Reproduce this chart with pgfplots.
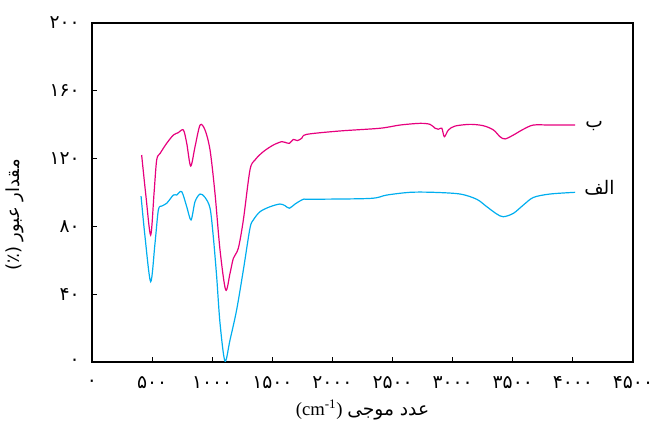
\documentclass[border=0pt]{standalone}
\usepackage{fontspec}
\setmainfont{Liberation Serif}
\newfontfamily\arabicfont[Script=Arabic]{DejaVu Sans}
\TeXXeTstate=1
\usepackage{pgfplots}
\pgfplotsset{compat=1.18}
\definecolor{mag}{RGB}{230,0,126}
\definecolor{cya}{RGB}{0,174,239}
\begin{document}
\begin{tikzpicture}
\path[use as bounding box] (-69pt,-48.75pt) rectangle (423.75pt,271.5pt);
\begin{axis}[
  scale only axis, width=405.75pt, height=254.25pt,
  xmin=0, xmax=4500, ymin=0, ymax=200,
  axis line style={line width=1.5pt},
  tick style={line width=0.8pt, black},
  tick align=inside, major tick length=4pt,
  xtick pos=bottom, ytick pos=left,
  xtick={0,500,...,4500},
  xticklabels={۰,۵۰۰,۱۰۰۰,۱۵۰۰,۲۰۰۰,۲۵۰۰,۳۰۰۰,۳۵۰۰,۴۰۰۰,۴۵۰۰},
  ytick={0,40,...,200},
  yticklabels={۰,۴۰,۸۰,۱۲۰,۱۶۰,۲۰۰},
  ticklabel style={font=\arabicfont\fontsize{14}{16}\selectfont, inner sep=0pt},
  xticklabel style={anchor=center, yshift=-15.75pt},
  yticklabel style={anchor=east, xshift=-9pt},
  xlabel={(cm\textsuperscript{-1}) {\arabicfont\beginR عدد موجی\endR}},
  xlabel style={at={(axis description cs:0.5,-0.1416)}, anchor=center, font=\fontsize{14}{16}\selectfont},
  ylabel={\arabicfont\beginR مقدار عبور \beginL(٪)\endL\endR},
  ylabel style={at={(axis description cs:-0.142,0.434)}, anchor=center, font=\fontsize{13.5}{15}\selectfont},
  every axis plot/.append style={line width=0.9pt, smooth, tension=0.5},
]
\addplot[mag] coordinates {
(413,122.1)(450,97)(488,74.9)(516,99.5)(538,119.2)(566,123)(621,129)(677,133.9)
(718,135.3)(760,136.9)(788,129)(821,115.6)(857,127)(899,139.8)(940,136.9)(982,125)
(1023,99.5)(1065,66)(1112,42.5)(1148,52.3)(1176,61.2)(1217,67.1)(1259,83.8)(1314,113.3)
(1356,119.2)(1425,124.1)(1508,128)(1578,130)(1606,129.6)(1642,129)(1675,131.3)(1708,130.6)
(1745,132)(1786,134.3)(2063,136.3)(2396,137.9)(2562,139.8)(2729,140.8)(2812,140.2)
(2854,137.9)(2881,137.3)(2910,137.9)(2931,132.9)(2965,136.9)(3020,139.2)(3145,140.2)
(3255,139.4)(3339,136.9)(3394,132.9)(3436,131.6)(3505,133.9)(3588,137.3)(3672,139.8)
(3810,139.8)(4018,139.8)
};
\addplot[cya] coordinates {
(408,97.9)(441,73.9)(488,47.4)(524,70)(552,89.7)(580,92)(621,93.6)(677,98.5)(704,98.5)
(746,100.5)(788,91.6)(824,83.8)(857,94.6)(899,99.1)(940,97.1)(982,90.7)(1009,73.9)
(1037,50.3)(1065,22.8)(1106,0.5)(1148,13)(1203,30.7)(1259,54.3)(1314,78.9)(1342,83.8)
(1398,88.7)(1481,91.6)(1564,93.2)(1606,92.2)(1642,90.7)(1689,93.2)(1758,96)(1814,96)
(2313,96.5)(2452,98.5)(2646,100.1)(2839,100.1)(3062,99.1)(3200,96)(3284,91.6)(3367,87.3)
(3422,85.7)(3505,87.7)(3588,92.6)(3672,97.1)(3810,99.1)(4018,100.1)
};
\node[anchor=base west, inner sep=0pt, font=\arabicfont\fontsize{14}{16}\selectfont] at (axis cs:4101,138.6) {ب};
\node[anchor=base west, inner sep=0pt, font=\arabicfont\fontsize{14}{16}\selectfont] at (axis cs:4093,98.8) {\beginR الف\endR};
\end{axis}
\end{tikzpicture}
\end{document}
